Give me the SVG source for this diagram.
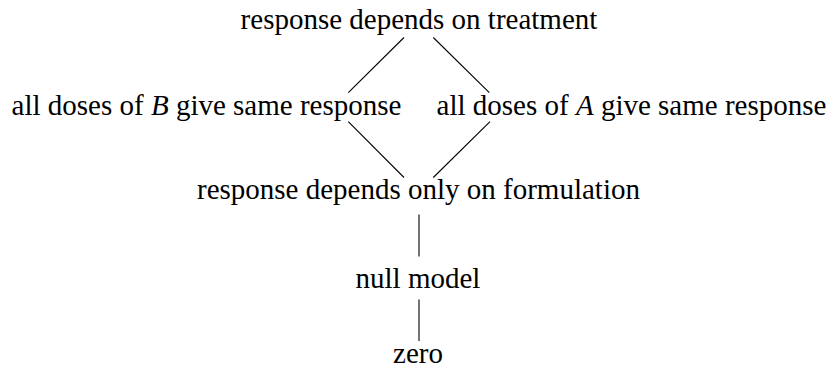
<svg xmlns="http://www.w3.org/2000/svg" width="829" height="370" viewBox="0 0 829 370">
<style>
text { font-family: "Liberation Serif", "Times New Roman", serif; font-size: 29px; fill: #000; text-anchor: middle; }
.e { stroke: #000; stroke-width: 1.1; fill: none; }
</style>
<rect width="829" height="370" fill="#fff"/>
<g id="connectors">
<line class="e" x1="404" y1="37.5" x2="348.3" y2="92.7"/>
<line class="e" x1="433.3" y1="37.5" x2="489.3" y2="92.7"/>
<line class="e" x1="348.3" y1="121.7" x2="404" y2="177.5"/>
<line class="e" x1="490" y1="121.7" x2="433.3" y2="177.5"/>
<line class="e" x1="419" y1="214.5" x2="419" y2="256.5"/>
<line class="e" x1="419" y1="299.5" x2="419" y2="341"/>
</g>
<g id="n_treatment"><text x="419" y="29">response depends on treatment</text></g>
<g id="n_B"><text x="206.5" y="115">all doses of <tspan font-style="italic">B</tspan> give same response</text></g>
<g id="n_A"><text x="631.5" y="115">all doses of <tspan font-style="italic">A</tspan> give same response</text></g>
<g id="n_formulation"><text x="418.5" y="199">response depends only on formulation</text></g>
<g id="n_null"><text x="418" y="287.5">null model</text></g>
<g id="n_zero"><text x="418" y="363">zero</text></g>
</svg>
